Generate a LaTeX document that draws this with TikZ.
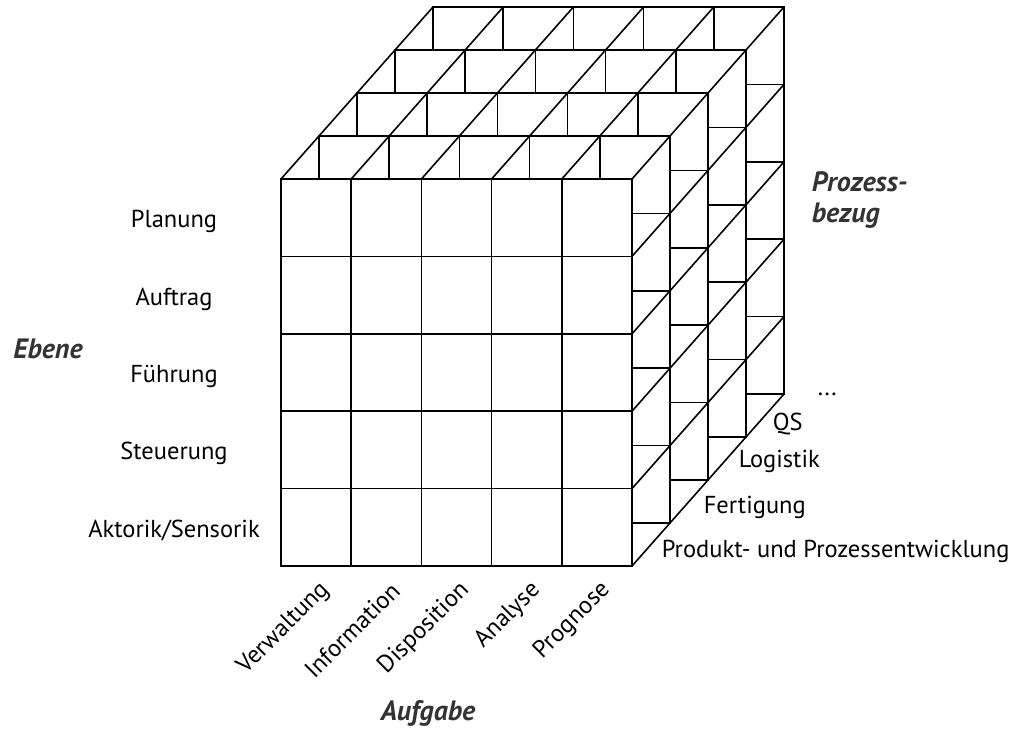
\documentclass[tikz,border=0pt]{standalone}
\usepackage{fontspec}
\setmainfont{PT Sans}
\tikzset{
  slab/.pic={
    \filldraw[fill=white] (0,0) rectangle (351,387);
    \draw (70.2,0) -- (70.2,387) (140.4,0) -- (140.4,387) (210.6,0) -- (210.6,387) (280.8,0) -- (280.8,387);
    \draw (0,77.4) -- (351,77.4) (0,154.8) -- (351,154.8) (0,232.2) -- (351,232.2) (0,309.6) -- (351,309.6);
  },
  lab/.style={inner sep=0, font=\fontsize{24.5}{28}\selectfont},
  dim/.style={inner sep=0, text=black!80, font=\fontsize{28}{31}\selectfont\bfseries\itshape}
}
\begin{document}
\begin{tikzpicture}[x=1pt, y=-1pt, line width=1.6pt]
\useasboundingbox (0,0) rectangle (1024,735);
\pic at (433,7) {slab};
\pic at (395,50) {slab};
\pic at (357,93) {slab};
\pic at (319,136) {slab};
\pic at (281,179) {slab};
\draw (281,179) -- (433,7) (351.2,179) -- (503.2,7) (421.4,179) -- (573.4,7) (491.6,179) -- (643.6,7) (561.8,179) -- (713.8,7) (632,179) -- (784,7);
\draw (632,256.4) -- (784,84.4) (632,333.8) -- (784,161.8) (632,411.2) -- (784,239.2) (632,488.6) -- (784,316.6) (632,566) -- (784,394);
\node[lab, anchor=base] (eb1) at (174,227){Planung};
\node[lab, anchor=base] (eb2) at (174,305){Auftrag};
\node[lab, anchor=base] (eb3) at (174,382){Führung};
\node[lab, anchor=base] (eb4) at (174,459){Steuerung};
\node[lab, anchor=base] (eb5) at (174,537){Aktorik/Sensorik};
\node[dim, anchor=base] (ebene) at (48,358){Ebene};
\node[lab, anchor=east, rotate=45] (af1) at (326,586){Verwaltung};
\node[lab, anchor=east, rotate=45] (af2) at (396,586){Information};
\node[lab, anchor=east, rotate=45] (af3) at (466,586){Disposition};
\node[lab, anchor=east, rotate=45] (af4) at (537,586){Analyse};
\node[lab, anchor=east, rotate=45] (af5) at (607,586){Prognose};
\node[dim, anchor=base] (aufgabe) at (428,720){Aufgabe};
\node[lab, anchor=base west] (pb1) at (661,557){Produkt- und Prozessentwicklung};
\node[lab, anchor=base west] (pb2) at (703,513){Fertigung};
\node[lab, anchor=base west] (pb3) at (738,467){Logistik};
\node[lab, anchor=base west] (pb4) at (772,430){QS};
\node[lab, anchor=base west] (pb5) at (817,395){...};
\node[dim, anchor=west, align=left] (prozess) at (811,200){Prozess-\\bezug};
\end{tikzpicture}
\end{document}
